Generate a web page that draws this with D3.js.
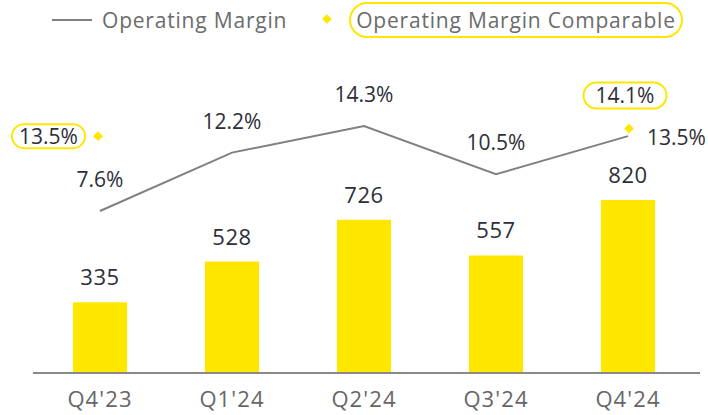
<!DOCTYPE html>
<html><head><meta charset="utf-8">
<script src="https://cdn.jsdelivr.net/npm/d3@7"></script>
<style>body{margin:0;background:#fff;} svg{display:block;font-family:"Open Sans",sans-serif;}</style>
</head><body>
<svg id="chart" width="708" height="415"></svg>
<script>
const categories = ["Q4'23","Q1'24","Q2'24","Q3'24","Q4'24"];
const operatingIncome = [335, 528, 726, 557, 820];
const operatingMargin = [7.6, 12.2, 14.3, 10.5, 13.5];
const comparableMargin = [13.5, null, null, null, 14.1];
const legendLabels = ["Operating Margin", "Operating Margin Comparable"];

const YELLOW = "#FFE600", GREY = "#808080", DARK = "#2e2e38", LEG = "#6b6b6b";
const svg = d3.select("#chart");

const x = d3.scaleBand().domain(categories).range([34, 694]).paddingInner(0.59).paddingOuter(0.295);
const yBar = d3.scaleLinear().domain([0, 1000]).range([373, 162]);
const yLine = d3.scaleLinear().domain([7.6, 14.3]).range([211, 126]);
const cx = c => x(c) + x.bandwidth() / 2;

// bars
svg.append("g").selectAll("rect").data(operatingIncome).join("rect")
  .attr("x", (d, i) => x(categories[i]))
  .attr("width", x.bandwidth())
  .attr("y", d => yBar(d))
  .attr("height", d => yBar(0) - yBar(d))
  .attr("fill", YELLOW);

// bar labels
svg.append("g").selectAll("text").data(operatingIncome).join("text")
  .attr("x", (d, i) => cx(categories[i]))
  .attr("y", d => yBar(d) - 17)
  .attr("text-anchor", "middle").attr("font-size", 22).attr("letter-spacing", 0.6).attr("fill", DARK)
  .text(d => d);

// axis
const axis = svg.append("g").attr("transform", `translate(0,${yBar(0)})`)
  .call(d3.axisBottom(x).tickSize(0).tickSizeOuter(0).tickPadding(18));
axis.select(".domain").attr("stroke", "#8a8a8a").attr("stroke-width", 2).attr("d", "M33,0H700");
axis.selectAll(".tick text").attr("font-size", 22).attr("letter-spacing", 1.1).attr("fill", "#666").attr("font-family", "Open Sans");

// line
const line = d3.line().x((d, i) => cx(categories[i])).y(d => yLine(d));
svg.append("path").datum(operatingMargin).attr("d", line)
  .attr("fill", "none").attr("stroke", GREY).attr("stroke-width", 2);

// line labels
svg.append("g").selectAll("text").data(operatingMargin).join("text")
  .attr("x", (d, i) => i === categories.length - 1 ? cx(categories[i]) + 19 : cx(categories[i]))
  .attr("y", (d, i) => i === categories.length - 1 ? yLine(d) + 9 : yLine(d) - 24)
  .attr("text-anchor", (d, i) => i === categories.length - 1 ? "start" : "middle")
  .attr("font-size", 21).attr("fill", DARK)
  .text(d => d.toFixed(1) + "%");

// comparable diamonds
const diamond = d3.symbol().type(d3.symbolDiamond2).size(60);
const comp = comparableMargin.map((v, i) => ({v, c: categories[i], i})).filter(d => d.v !== null);
svg.append("g").selectAll("path").data(comp).join("path")
  .attr("d", diamond)
  .attr("transform", d => `translate(${cx(d.c) - (d.i === 0 ? 2 : -1)},${yLine(d.v)})`)
  .attr("fill", YELLOW);

// comparable labels with rounded boxes
comp.forEach(d => {
  const px = cx(d.c), py = yLine(d.v);
  let bx, by, bw, bh;
  if (d.i === 0) { bw = 73; bh = 24; bx = px - 15 - bw; by = py - bh / 2; }
  else { bw = 83; bh = 26; bx = px - 3 - bw / 2; by = py - 20 - bh; }
  const g = svg.append("g");
  g.append("rect").attr("x", bx).attr("y", by).attr("width", bw).attr("height", bh)
    .attr("rx", bh / 2).attr("fill", "#fff").attr("stroke", YELLOW).attr("stroke-width", 2);
  g.append("text").attr("x", bx + bw / 2).attr("y", by + bh / 2 + 7.5)
    .attr("text-anchor", "middle").attr("font-size", 21).attr("fill", DARK)
    .text(d.v.toFixed(1) + "%");
});

// legend
const lg = svg.append("g");
lg.append("line").attr("x1", 52).attr("x2", 92).attr("y1", 20).attr("y2", 20)
  .attr("stroke", GREY).attr("stroke-width", 2);
lg.append("text").attr("x", 102).attr("y", 27.5).attr("font-size", 21).attr("letter-spacing", 0.8).attr("fill", LEG).text(legendLabels[0]);
lg.append("path").attr("d", diamond).attr("transform", "translate(327,19)").attr("fill", YELLOW);
lg.append("rect").attr("x", 350).attr("y", 3).attr("width", 332).attr("height", 34).attr("rx", 17)
  .attr("fill", "none").attr("stroke", YELLOW).attr("stroke-width", 2);
lg.append("text").attr("x", 516).attr("y", 27.5).attr("text-anchor", "middle").attr("font-size", 21).attr("letter-spacing", 0.8).attr("fill", LEG).text(legendLabels[1]);
</script>
</body></html>
